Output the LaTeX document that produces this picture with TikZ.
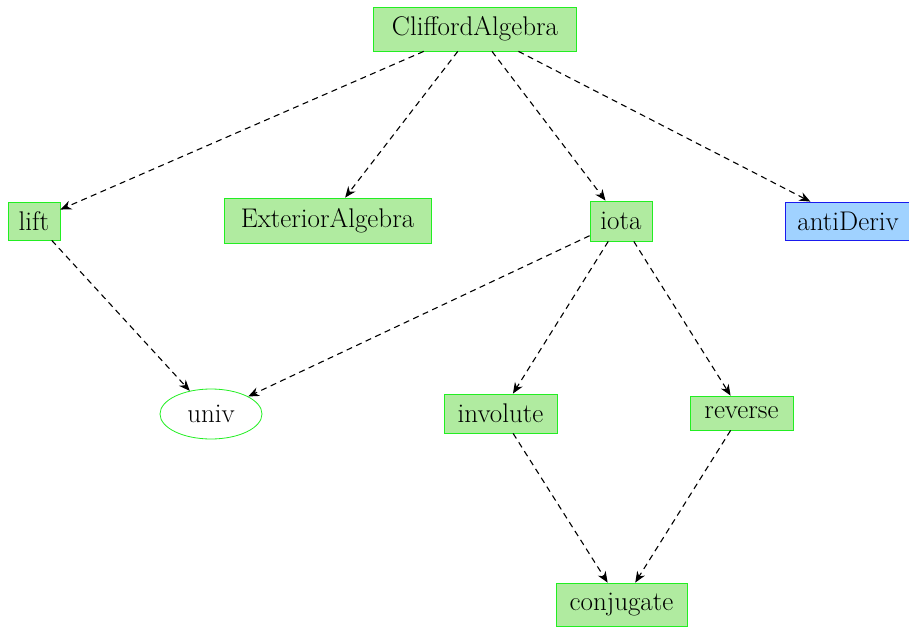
\documentclass[tikz,border=0pt]{standalone}
\usetikzlibrary{arrows.meta,shapes.geometric}
\definecolor{boxgreen}{HTML}{B0EBA0}
\definecolor{edgegreen}{HTML}{22EE22}
\definecolor{boxblue}{HTML}{A0D2FF}
\definecolor{edgeblue}{HTML}{1A1AEE}
\begin{document}
\begin{tikzpicture}[x=1pt,y=-1pt,
  every node/.style={font=\fontsize{27}{31}\selectfont, inner sep=0pt},
  gbox/.style={rectangle, draw=edgegreen, fill=boxgreen, line width=0.8pt},
  bbox/.style={rectangle, draw=edgeblue, fill=boxblue, line width=0.8pt},
  gell/.style={ellipse, draw=edgegreen, line width=0.8pt},
  dep/.style={draw=black, line width=1.1pt, dash pattern=on 6pt off 4.5pt,
    -{Stealth[length=11pt,width=9pt,inset=3.5pt]}}]
\useasboundingbox (0,0) rectangle (909,628);
\node[gbox, minimum width=203pt, minimum height=44pt] (clif) at (475,29) {CliffordAlgebra};
\node[gbox, minimum width=52pt, minimum height=38pt] (lift) at (34,221) {lift};
\node[gbox, minimum width=207pt, minimum height=45pt] (ext) at (327.5,220.5) {ExteriorAlgebra};
\node[gbox, minimum width=62pt, minimum height=40pt] (iota) at (621,221) {iota};
\node[bbox, minimum width=126pt, minimum height=38pt] (anti) at (848,221) {antiDeriv};
\node[gell, minimum width=102pt, minimum height=50pt] (univ) at (211,414) {univ};
\node[gbox, minimum width=113pt, minimum height=39pt] (inv) at (500.5,413.5) {involute};
\node[gbox, minimum width=103pt, minimum height=34pt] (rev) at (741.5,413) {reverse};
\node[gbox, minimum width=131pt, minimum height=43pt] (conj) at (621.5,604.5) {conjugate};
\draw[dep] (clif) -- (lift);
\draw[dep] (clif) -- (ext);
\draw[dep] (clif) -- (iota);
\draw[dep] (clif) -- (anti);
\draw[dep] (lift) -- (univ);
\draw[dep] (iota) -- (univ);
\draw[dep] (iota) -- (inv);
\draw[dep] (iota) -- (rev);
\draw[dep] (inv) -- (conj);
\draw[dep] (rev) -- (conj);
\end{tikzpicture}
\end{document}
